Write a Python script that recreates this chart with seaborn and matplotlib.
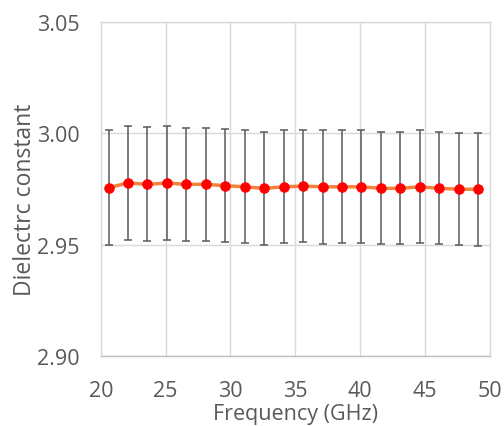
import matplotlib
matplotlib.use("Agg")
import matplotlib.pyplot as plt
import seaborn as sns
import pandas as pd

freq = [20.6, 22.1, 23.6, 25.1, 26.6, 28.1, 29.6, 31.1, 32.6, 34.1,
        35.6, 37.1, 38.6, 40.1, 41.6, 43.1, 44.6, 46.1, 47.6, 49.1]
dk = [2.9756, 2.9777, 2.9771, 2.9777, 2.9771, 2.9771, 2.9765, 2.9760, 2.9753, 2.9760,
      2.9763, 2.9760, 2.9760, 2.9760, 2.9753, 2.9753, 2.9760, 2.9753, 2.9749, 2.9749]
err = [0.0257, 0.0256, 0.0256, 0.0256, 0.0253, 0.0253, 0.0253, 0.0253, 0.0253, 0.0253,
       0.0253, 0.0255, 0.0253, 0.0253, 0.0251, 0.0251, 0.0253, 0.0251, 0.0251, 0.0254]
xticks = [20, 25, 30, 35, 40, 45, 50]
yticks = [2.90, 2.95, 3.00, 3.05]

df = pd.DataFrame({"Frequency": freq, "Dk": dk, "err": err})

sns.set_theme(style="white")
plt.rcParams['font.family'] = ['Open Sans', 'DejaVu Sans']

fig = plt.figure(figsize=(5.04, 4.27), dpi=100)
ax = fig.add_axes([0.200, 0.164, 0.772, 0.782])

ax.errorbar(df["Frequency"], df["Dk"], yerr=df["err"], fmt='none',
            ecolor='#5A5A5A', elinewidth=1.1, capsize=3.2, capthick=1.1, zorder=2)
sns.lineplot(data=df, x="Frequency", y="Dk", ax=ax, color='#F4823C', linewidth=2.5,
             marker='o', markersize=6.8, markerfacecolor='#FF0000', markeredgecolor='#FF0000',
             zorder=3)

ax.set_xlim(20, 50)
ax.set_ylim(2.90, 3.05)
ax.set_xticks(xticks)
ax.set_yticks(yticks)
ax.set_yticklabels([f"{v:.2f}" for v in yticks])
ax.grid(True, color='#D9D9D9', linewidth=1)
ax.set_axisbelow(True)
for s in ax.spines.values():
    s.set_color('#D9D9D9')
    s.set_linewidth(1)
ax.spines['bottom'].set_color('#BFBFBF')
ax.tick_params(axis='both', length=0, labelsize=15.5, colors='#595959')
ax.tick_params(axis='y', pad=15)
ax.tick_params(axis='x', pad=17)
ax.set_xlabel("Frequency (GHz)", fontsize=15.5, color='#595959', labelpad=2)
ax.set_ylabel("Dielectrc constant", fontsize=16.5, color='#595959')
ax.yaxis.set_label_coords(-0.165, 0.47)

fig.savefig("out.png", dpi=100)
